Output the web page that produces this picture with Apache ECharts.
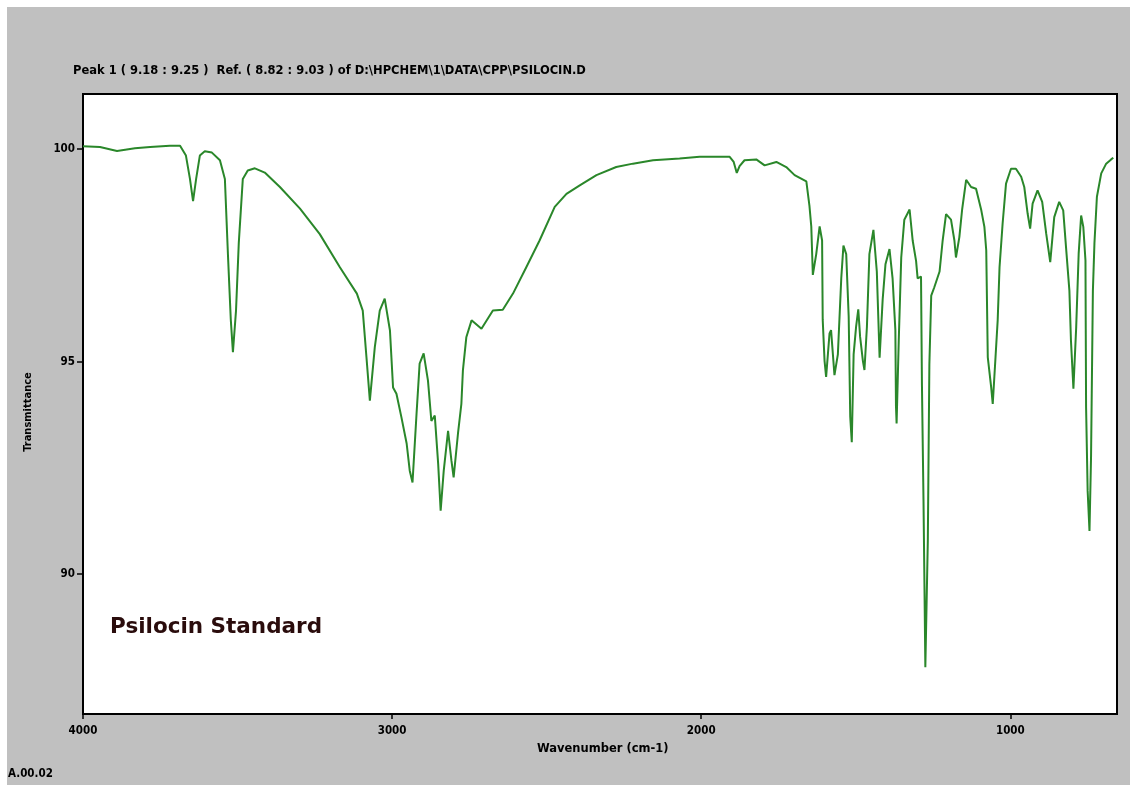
<!DOCTYPE html>
<html>
<head>
<meta charset="utf-8">
<script src="https://cdn.jsdelivr.net/npm/echarts@6/dist/echarts.min.js"></script>
<style>
  html, body { margin: 0; padding: 0; background: #fff; }
  #bg { position: absolute; left: 7px; top: 7px; width: 1123px; height: 778px; background: #c0c0c0; }
  #chart { position: absolute; left: 0; top: 0; width: 1135px; height: 785px; }
</style>
</head>
<body>
<div id="bg"></div>
<div id="chart"></div>
<script>
// wavenumber (cm-1) and transmittance
var wavenumber = [4000, 3945, 3890, 3832, 3783, 3719, 3686, 3667, 3654, 3644, 3634, 3622, 3606, 3583, 3557, 3541,
  3531, 3522, 3515, 3505, 3496, 3483, 3467, 3444, 3412, 3363, 3298, 3234, 3169, 3114, 3095,
  3083, 3072, 3056, 3040, 3024, 3007, 2997, 2986, 2970, 2953, 2943, 2934, 2921, 2911, 2898, 2884,
  2873, 2862, 2851, 2843, 2833, 2819, 2808, 2801, 2787, 2776, 2771, 2760, 2743, 2711, 2674, 2642,
  2609, 2566, 2523, 2474, 2436, 2393, 2339, 2275, 2221, 2156, 2070, 2005, 1908, 1895, 1885, 1876,
  1860, 1822, 1795, 1757, 1725, 1698, 1660, 1650, 1644, 1639, 1628, 1617, 1609, 1607, 1601, 1596,
  1585, 1580, 1569, 1558, 1547, 1540, 1531, 1523, 1518, 1513, 1507, 1499, 1492, 1486, 1477, 1472,
  1464, 1456, 1443, 1432, 1423, 1413, 1404, 1391, 1381, 1372, 1370, 1368, 1361, 1353, 1343, 1326,
  1316, 1305, 1300, 1289, 1286, 1281, 1277, 1275, 1267, 1262, 1256, 1246, 1229, 1219, 1208, 1192,
  1181, 1176, 1165, 1156, 1143, 1127, 1111, 1094, 1084, 1078, 1073, 1062, 1057, 1048, 1041, 1035,
  1025, 1014, 998, 982, 965, 955, 944, 936, 928, 912, 897, 884, 871, 858, 842, 829,
  820, 809, 804, 796, 787, 779, 771, 764, 757, 755, 750, 744, 739, 733, 728, 720,
  706, 690, 674, 667];
var transmittance = [100.07, 100.05, 99.96, 100.02, 100.05, 100.08, 100.08, 99.85, 99.3, 98.78, 99.3, 99.85, 99.95, 99.92, 99.74, 99.3,
  97.5, 96.0, 95.22, 96.2, 97.8, 99.3, 99.5, 99.55, 99.45, 99.11, 98.6, 98.0, 97.22, 96.6, 96.2,
  95.1, 94.08, 95.34, 96.2, 96.48, 95.73, 94.39, 94.24, 93.69, 93.07, 92.43, 92.15, 93.77, 94.95, 95.19, 94.55,
  93.6, 93.73, 92.59, 91.49, 92.43, 93.37, 92.66, 92.27, 93.3, 94.0, 94.79, 95.57, 95.97, 95.77, 96.2, 96.22,
  96.6, 97.22, 97.85, 98.64, 98.95, 99.15, 99.39, 99.58, 99.66, 99.74, 99.78, 99.82, 99.82, 99.7, 99.44, 99.6,
  99.74, 99.76, 99.62, 99.7, 99.58, 99.39, 99.24, 98.67, 98.18, 97.04, 97.53, 98.18, 97.85, 95.98, 95.01, 94.64,
  95.66, 95.74, 94.68, 95.17, 96.96, 97.73, 97.53, 96.06, 93.7, 93.1, 95.17, 95.82, 96.23, 95.58, 95.01, 94.8,
  95.82, 97.53, 98.1, 97.12, 95.09, 96.47, 97.29, 97.65, 96.96, 95.74, 93.95, 93.54, 95.5, 97.45, 98.34, 98.58,
  97.85, 97.37, 96.96, 97.0, 94.44, 91.75, 89.15, 87.8, 90.78, 94.93, 96.55, 96.75, 97.12, 97.85, 98.47, 98.34,
  97.85, 97.45, 97.93, 98.58, 99.28, 99.11, 99.07, 98.56, 98.17, 97.62, 95.1, 94.39, 94.0, 95.1, 95.97, 97.22,
  98.25, 99.19, 99.54, 99.54, 99.35, 99.11, 98.48, 98.13, 98.72, 99.03, 98.76, 98.01, 97.34, 98.4, 98.76, 98.56,
  97.7, 96.67, 95.5, 94.36, 95.81, 97.54, 98.44, 98.17, 97.38, 93.92, 91.96, 91.01, 92.74, 96.67, 97.78, 98.88,
  99.43, 99.66, 99.76, 99.8];

var xTicks = [1000, 2000, 3000, 4000];
var yTicks = [90, 95, 100];

var headerText = 'Peak 1 ( 9.18 : 9.25 )  Ref. ( 8.82 : 9.03 ) of D:\\HPCHEM\\1\\DATA\\CPP\\PSILOCIN.D';

var points = [];
for (var i = 0; i < wavenumber.length; i++) {
  points.push([wavenumber[i], transmittance[i]]);
}

var myChart = echarts.init(document.getElementById('chart'));
var FONT = 'DejaVu Sans';
var NARROW = 'DejaVu Sans Condensed';

function smallText(text, x, y, fam) {
  return {
    type: 'text', x: x, y: y,
    style: { text: text, font: 'bold 11.5px "' + (fam || FONT) + '"', fill: '#000' }
  };
}

var option = {
  animation: false,
  backgroundColor: 'transparent',
  grid: {
    left: 83, top: 94, right: 18, bottom: 71,
    show: true,
    backgroundColor: '#fff',
    borderColor: '#000',
    borderWidth: 2
  },
  xAxis: {
    type: 'value',
    inverse: true,
    min: 655,
    max: 4000,
    splitLine: { show: false },
    axisLine: { onZero: false, lineStyle: { color: '#000', width: 2 } },
    axisTick: { customValues: xTicks, length: 5, lineStyle: { color: '#000', width: 1.5 } },
    axisLabel: {
      customValues: xTicks, margin: 11,
      formatter: function (v) { return String(v); },
      fontFamily: NARROW, fontWeight: 'bold', fontSize: 11.5, color: '#000'
    }
  },
  yAxis: {
    type: 'value',
    min: 86.7,
    max: 101.3,
    splitLine: { show: false },
    axisLine: { show: true, onZero: false, lineStyle: { color: '#000', width: 2 } },
    axisTick: { show: true, customValues: yTicks, length: 6, lineStyle: { color: '#000', width: 1.5 } },
    axisLabel: {
      customValues: yTicks, margin: 8,
      fontFamily: NARROW, fontWeight: 'bold', fontSize: 11.5, color: '#000'
    }
  },
  series: [{
    type: 'line',
    data: points,
    showSymbol: false,
    lineStyle: { color: '#2a872a', width: 2 }
  }],
  graphic: [
    smallText(headerText, 73, 65),
    {
      type: 'text', x: 28, y: 412, rotation: Math.PI / 2,
      style: { text: 'Transmittance', font: 'bold 11px "' + NARROW + '"', fill: '#000', align: 'center', verticalAlign: 'middle' }
    },
    smallText('Wavenumber (cm-1)', 537, 743),
    smallText('A.00.02', 8, 768, NARROW),
    {
      type: 'text', x: 110, y: 616,
      style: {
        text: 'Psilocin Standard',
        font: 'bold 21.5px "DejaVu Sans"',
        fill: '#2a0c0c'
      }
    }
  ]
};
myChart.setOption(option);
</script>
</body>
</html>
